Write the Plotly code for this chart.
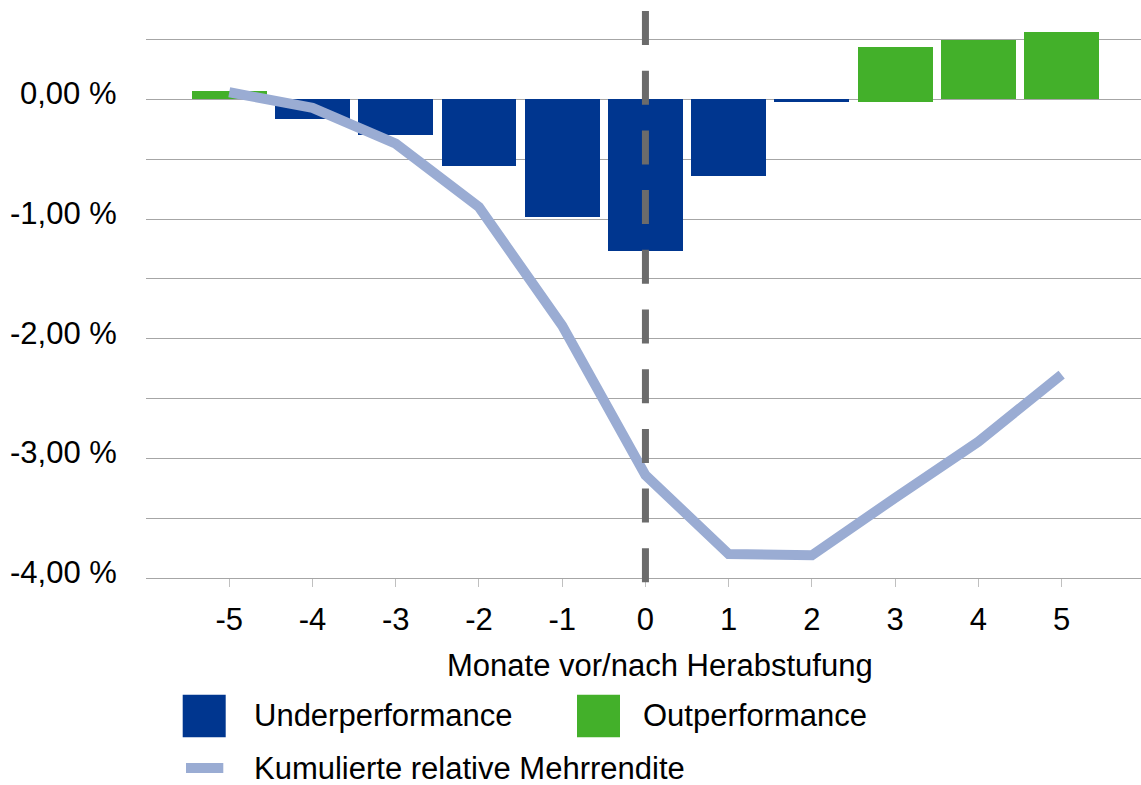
import plotly.graph_objects as go

# Months relative to the downgrade
months = [-5, -4, -3, -2, -1, 0, 1, 2, 3, 4, 5]

# Monthly relative return (%) split by sign
underperf_months = [-4, -3, -2, -1, 0, 1, 2]
underperf_values = [-0.16, -0.30, -0.56, -0.98, -1.27, -0.64, -0.02]

outperf_months = [-5, 3, 4, 5]
outperf_top = [0.07, 0.44, 0.50, 0.56]
outperf_base = [0.0, -0.02, 0.0, 0.0]

# Cumulative relative excess return (%)
cumulative = [0.06, -0.07, -0.37, -0.90, -1.89, -3.14, -3.80, -3.81, -3.33, -2.86, -2.30]

y_grid_vals = [-4.0, -3.5, -3.0, -2.5, -2.0, -1.5, -1.0, -0.5, 0.0, 0.5]
y_label_vals = [-4.0, -3.0, -2.0, -1.0, 0.0]
y_label_text = ["-4,00 %", "-3,00 %", "-2,00 %", "-1,00 %", "0,00 %"]

BLUE = "#00368f"
GREEN = "#43b02a"
LINE = "#9aacd3"
DASH = "#6b6b6b"
GRID = "#a6a6a6"
FONT = "Liberation Sans, Arial, sans-serif"
FS = 31

W, H = 1141, 785
L, R, T, B = 146, 1141, 11, 578.3


def px_x(p):
    return (p - L) / (R - L)


def px_y(p):
    return (B - p) / (B - T)


fig = go.Figure()

fig.add_trace(go.Bar(
    x=underperf_months, y=underperf_values, width=0.9,
    marker=dict(color=BLUE, line=dict(width=0)),
    name="Underperformance", showlegend=False,
))
fig.add_trace(go.Bar(
    x=outperf_months,
    y=[t - b for t, b in zip(outperf_top, outperf_base)],
    base=outperf_base, width=0.9,
    marker=dict(color=GREEN, line=dict(width=0)),
    name="Outperformance", showlegend=False,
))
fig.add_trace(go.Scatter(
    x=months, y=cumulative, mode="lines",
    line=dict(color=LINE, width=10),
    name="Kumulierte relative Mehrrendite", showlegend=False,
))

# Downgrade month marker
fig.add_shape(
    type="line", xref="x", yref="paper", x0=0, x1=0, y0=1, y1=px_y(583),
    line=dict(color=DASH, width=7, dash="34px,25.7px"), layer="above",
)

# Y tick labels, sitting slightly above their gridlines
for v, txt in zip(y_label_vals, y_label_text):
    fig.add_annotation(
        text=txt, xref="paper", yref="y", x=px_x(118.5), y=v,
        xanchor="right", yanchor="middle", yshift=5.5, showarrow=False,
        font=dict(family=FONT, size=FS, color="#000000"),
    )

# Axis title
fig.add_annotation(
    text="Monate vor/nach Herabstufung", xref="paper", yref="paper",
    x=px_x(659.5), y=px_y(666), xanchor="center", yanchor="middle",
    showarrow=False, font=dict(family=FONT, size=FS, color="#000000"),
)

# Legend
swatches = [
    (182.7, 225.7, 695, 737.7, BLUE),
    (577, 620, 695, 737.7, GREEN),
    (186, 223.3, 763.3, 773.3, LINE),
]
for x0, x1, y0, y1, c in swatches:
    fig.add_shape(
        type="rect", xref="paper", yref="paper",
        x0=px_x(x0), x1=px_x(x1), y0=px_y(y0), y1=px_y(y1),
        fillcolor=c, line=dict(width=0),
    )
legend_labels = [
    ("Underperformance", 251.7, 716),
    ("Outperformance", 641, 716),
    ("Kumulierte relative Mehrrendite", 251.7, 769),
]
for txt, x, y in legend_labels:
    fig.add_annotation(
        text=txt, xref="paper", yref="paper", x=px_x(x), y=px_y(y),
        xanchor="left", yanchor="middle", showarrow=False,
        font=dict(family=FONT, size=FS, color="#000000"),
    )

fig.update_layout(
    width=W, height=H,
    margin=dict(l=L, r=W - R, t=T, b=H - B, pad=0),
    paper_bgcolor="white", plot_bgcolor="white",
    barmode="overlay", bargap=0,
    font=dict(family=FONT, size=FS, color="#000000"),
    xaxis=dict(
        range=[-6, -6 + (R - L) / 83.24],
        tickvals=months, ticktext=[str(m) for m in months],
        ticks="outside", ticklen=8, tickcolor="#c0c0c0", tickwidth=1,
        showline=True, linecolor=GRID, linewidth=1.3,
        showgrid=False, zeroline=False,
        ticklabelstandoff=6,
    ),
    yaxis=dict(
        range=[-4, (99.5 - T) / 119.7],
        tickvals=y_grid_vals, showticklabels=False,
        ticks="", showline=False,
        showgrid=True, gridcolor=GRID, gridwidth=1.3,
        zeroline=False,
    ),
)

fig.write_html("out.html")
